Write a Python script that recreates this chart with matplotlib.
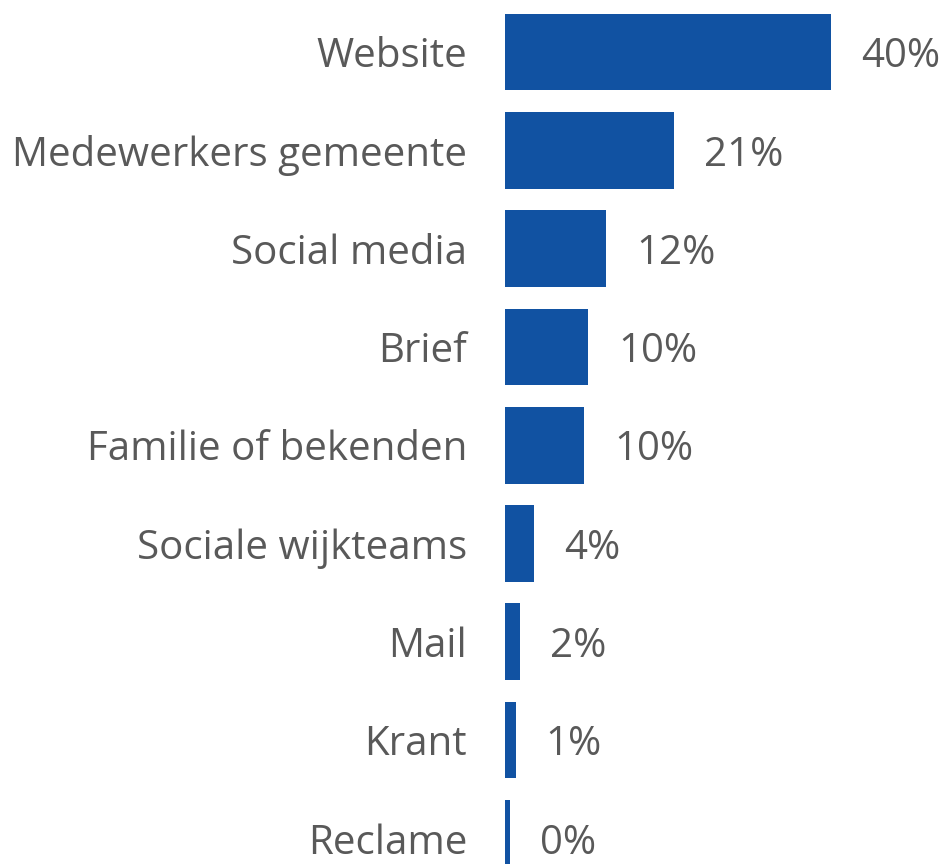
import matplotlib.pyplot as plt

categories = ["Website", "Medewerkers gemeente", "Social media", "Brief",
              "Familie of bekenden", "Sociale wijkteams", "Mail", "Krant", "Reclame"]
values = [40.0, 20.7, 12.4, 10.2, 9.7, 3.6, 1.8, 1.3, 0.6]
value_labels = ["40%", "21%", "12%", "10%", "10%", "4%", "2%", "1%", "0%"]

bar_color = "#1152A2"
text_color = "#595959"
plt.rcParams['font.family'] = ['Open Sans', 'DejaVu Sans']

fig = plt.figure(figsize=(9.49, 8.64), dpi=100)
ax = fig.add_axes([505 / 949, 0, 444 / 949, 1])

y = list(range(len(categories)))
ax.barh(y, values, height=0.78, color=bar_color)

for i, (v, lab) in enumerate(zip(values, value_labels)):
    ax.annotate(lab, (v, i), xytext=(30, 0), textcoords="offset pixels",
                va="center_baseline", ha="left", fontsize=29, color=text_color)

ax.set_yticks(y)
ax.set_yticklabels(categories, fontsize=29, color=text_color)
ax.tick_params(axis="y", length=0, pad=38 * 72 / 100)
ax.set_xticks([])

ax.set_xlim(0, 40 * 444 / 326)
ax.set_ylim((864 - 52) / 98.3, -52 / 98.3)
for s in ax.spines.values():
    s.set_visible(False)

fig.savefig("out.png", dpi=100)
